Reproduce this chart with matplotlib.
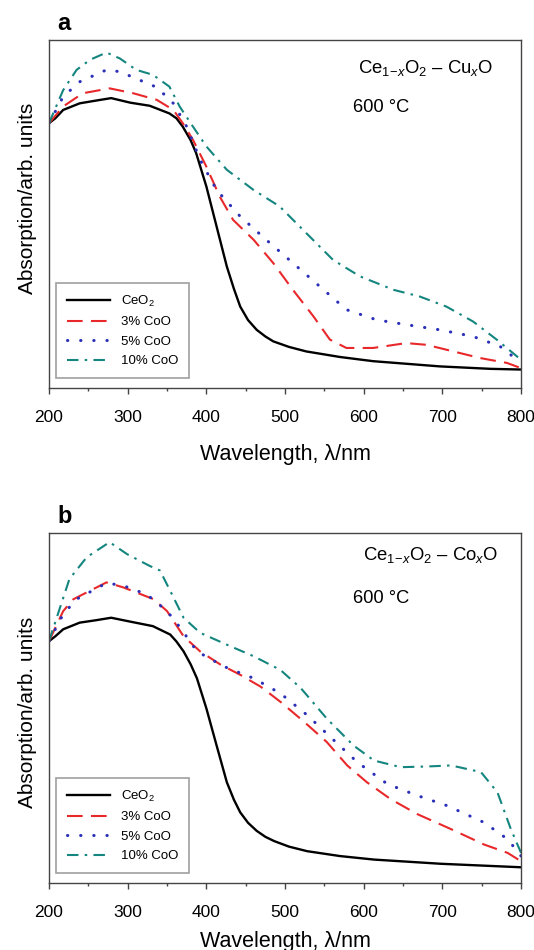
import matplotlib
matplotlib.use("Agg")
import matplotlib.pyplot as plt
import numpy as np
from matplotlib.ticker import MultipleLocator

plt.rcParams['font.family'] = ['Liberation Sans', 'DejaVu Sans']
plt.rcParams['mathtext.fontset'] = 'custom'
plt.rcParams['mathtext.rm'] = 'Liberation Sans'
plt.rcParams['mathtext.it'] = 'Liberation Sans:italic'

# ---- Panel a data (Ce1-xO2 - CuxO) ----
a_ceo2_x = [200, 208, 218, 239, 260, 279, 303, 328, 353, 362, 370, 380, 387, 400, 413, 426, 435, 443, 453, 464, 475, 485, 505, 527, 570, 612, 697, 761, 800]
a_ceo2_y = [0.761, 0.775, 0.799, 0.818, 0.826, 0.833, 0.820, 0.811, 0.789, 0.775, 0.751, 0.712, 0.675, 0.579, 0.464, 0.349, 0.285, 0.234, 0.195, 0.167, 0.148, 0.134, 0.118, 0.105, 0.089, 0.077, 0.062, 0.055, 0.053]

a_3_x = [200, 218, 243, 277, 307, 337, 358, 370, 383, 400, 417, 434, 460, 485, 510, 536, 557, 578, 612, 654, 680, 714, 748, 782, 800]
a_3_y = [0.761, 0.809, 0.847, 0.861, 0.847, 0.828, 0.799, 0.761, 0.713, 0.636, 0.550, 0.483, 0.426, 0.359, 0.282, 0.206, 0.139, 0.115, 0.115, 0.129, 0.124, 0.105, 0.086, 0.072, 0.057]

a_5_x = [200, 218, 239, 273, 290, 315, 337, 358, 375, 392, 413, 443, 476, 510, 544, 578, 616, 654, 697, 739, 773, 800]
a_5_y = [0.761, 0.837, 0.880, 0.914, 0.909, 0.885, 0.864, 0.818, 0.751, 0.656, 0.569, 0.493, 0.426, 0.359, 0.292, 0.225, 0.196, 0.182, 0.167, 0.148, 0.120, 0.072]

a_10_x = [200, 218, 235, 252, 273, 290, 311, 332, 353, 366, 383, 400, 426, 460, 493, 527, 561, 595, 638, 671, 705, 739, 769, 800]
a_10_y = [0.761, 0.856, 0.914, 0.943, 0.964, 0.947, 0.914, 0.900, 0.866, 0.809, 0.751, 0.694, 0.627, 0.569, 0.522, 0.445, 0.368, 0.321, 0.282, 0.263, 0.234, 0.191, 0.139, 0.081]

# ---- Panel b data (Ce1-xO2 - CoxO) ----
b_ceo2_x = [200, 208, 218, 239, 260, 279, 303, 332, 354, 362, 371, 380, 388, 400, 413, 426, 435, 443, 453, 464, 475, 486, 505, 528, 570, 613, 698, 800]
b_ceo2_y = [0.691, 0.705, 0.725, 0.744, 0.751, 0.758, 0.747, 0.734, 0.710, 0.690, 0.662, 0.625, 0.585, 0.499, 0.393, 0.288, 0.238, 0.202, 0.172, 0.149, 0.132, 0.120, 0.104, 0.091, 0.077, 0.067, 0.055, 0.045]

b_3_x = [200, 218, 231, 273, 294, 333, 350, 371, 392, 418, 443, 469, 494, 524, 553, 579, 604, 634, 668, 711, 753, 783, 800]
b_3_y = [0.691, 0.777, 0.811, 0.859, 0.845, 0.811, 0.777, 0.705, 0.662, 0.624, 0.595, 0.561, 0.518, 0.461, 0.403, 0.336, 0.288, 0.240, 0.197, 0.154, 0.110, 0.086, 0.062]

b_5_x = [200, 218, 235, 273, 294, 324, 350, 367, 388, 422, 460, 494, 528, 562, 592, 630, 668, 706, 753, 783, 800]
b_5_y = [0.691, 0.768, 0.811, 0.857, 0.850, 0.825, 0.777, 0.729, 0.662, 0.619, 0.585, 0.542, 0.480, 0.408, 0.345, 0.283, 0.250, 0.221, 0.173, 0.125, 0.077]

b_10_x = [200, 214, 226, 248, 277, 299, 328, 341, 354, 371, 392, 426, 460, 494, 520, 553, 587, 613, 647, 681, 711, 749, 770, 787, 800]
b_10_y = [0.691, 0.787, 0.869, 0.931, 0.974, 0.940, 0.906, 0.893, 0.835, 0.758, 0.715, 0.681, 0.648, 0.609, 0.557, 0.470, 0.393, 0.350, 0.331, 0.333, 0.336, 0.317, 0.259, 0.154, 0.086]

labels = ['CeO$_2$', '3% CoO', '5% CoO', '10% CoO']
xticks = [200, 300, 400, 500, 600, 700, 800]

styles = [
    dict(color='black', linestyle='-', linewidth=1.7),
    dict(color='#e8282a', linestyle=(0, (7.5, 4)), linewidth=1.5),
    dict(color='#2b2fb8', linestyle=(0, (0.1, 4.2)), linewidth=2.2, dash_capstyle='round'),
    dict(color='#14857f', linestyle=(0, (5.5, 3, 1.2, 3)), linewidth=1.5),
]

fig = plt.figure(figsize=(5.34, 9.5), dpi=100)
ax_a = fig.add_axes([0.0918, 0.5916, 0.884, 0.3663])
ax_b = fig.add_axes([0.0918, 0.0705, 0.884, 0.3684])

sub = '$_{1\\!\u2212\\!\\mathit{x}}$'
panels = [
    (ax_a, [(a_ceo2_x, a_ceo2_y), (a_3_x, a_3_y), (a_5_x, a_5_y), (a_10_x, a_10_y)],
     'a', 'Ce' + sub + 'O$_2$ \u2013 Cu$_\\mathit{x}$O', 0.655, 0.92, 0.807, 13.5, 0.546),
    (ax_b, [(b_ceo2_x, b_ceo2_y), (b_3_x, b_3_y), (b_5_x, b_5_y), (b_10_x, b_10_y)],
     'b', 'Ce' + sub + 'O$_2$ \u2013 Co$_\\mathit{x}$O', 0.665, 0.937, 0.813, 7.5, 0.489),
]

for ax, series, letter, title, tx, ty, cy, xpad, ylab_y in panels:
    for (xs, ys), lab, st in zip(series, labels, styles):
        ax.plot(xs, ys, label=lab, **st)
    ax.set_xlim(200, 800)
    ax.set_ylim(0, 1.0)
    ax.set_xticks(xticks)
    ax.xaxis.set_minor_locator(MultipleLocator(50))
    ax.set_yticks([])
    ax.tick_params(axis='x', which='major', direction='out', length=4, width=1, labelsize=12.5, pad=12, colors='#444444', labelcolor='black')
    ax.tick_params(axis='x', which='minor', direction='out', length=2.5, width=1, colors='#444444')
    for sp in ax.spines.values():
        sp.set_color('#444444')
        sp.set_linewidth(1.0)
    ax.set_xlabel('Wavelength, \u03bb/nm', fontsize=15.5, labelpad=xpad)
    ax.set_ylabel('Absorption/arb. units', fontsize=15, labelpad=9)
    ax.yaxis.label.set_y(ylab_y)
    ax.text(0.017, 1.029, letter, transform=ax.transAxes, fontsize=17, fontweight='bold', va='baseline', ha='left')
    ax.text(tx, ty, title, transform=ax.transAxes, fontsize=13.3, va='center', ha='left')
    ax.text(0.643, cy, '600 \u00b0C', transform=ax.transAxes, fontsize=13.2, va='center', ha='left')
    leg = ax.legend(loc='lower left', bbox_to_anchor=(0.015, 0.029), borderaxespad=0, fontsize=9.5, frameon=True,
                    fancybox=False, edgecolor='#888888', handlelength=3.3, borderpad=0.8,
                    labelspacing=0.55, handletextpad=0.8)
    leg.get_frame().set_linewidth(1.2)

fig.savefig('out.png', dpi=100)
